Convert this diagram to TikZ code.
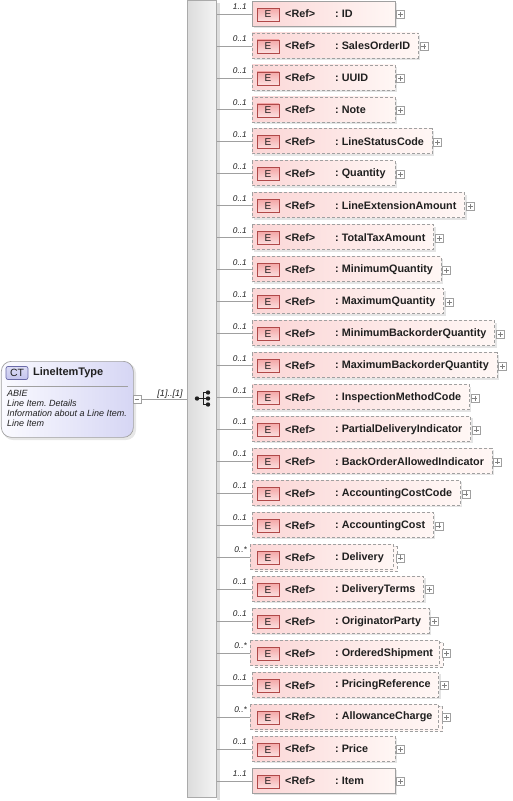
\documentclass[tikz,border=0pt]{standalone}
\usepackage{fontspec}
\setmainfont{Liberation Sans}
\usetikzlibrary{calc}
\pgfdeclarelayer{bg}
\pgfsetlayers{bg,main}
\definecolor{lgray}{HTML}{A0A0A0}
\definecolor{txt}{HTML}{202020}
\definecolor{boxl}{HTML}{FBD6D6}
\definecolor{boxr}{HTML}{FFF7F5}
\definecolor{ered}{HTML}{B04848}
\definecolor{etop}{HTML}{F4A8A8}
\definecolor{ebot}{HTML}{FCE0E0}
\definecolor{shad}{HTML}{DDDDDD}
\definecolor{barl}{HTML}{DCDCDC}
\definecolor{barr}{HTML}{F4F4F4}
\definecolor{ctl}{HTML}{FAFAFF}
\definecolor{ctr}{HTML}{D6D6F4}
\definecolor{ctbd}{HTML}{6A6AA8}
\definecolor{ctbf}{HTML}{C4C4EE}
\frenchspacing
\begin{document}
\begin{tikzpicture}[x=1pt,y=-1pt,
  conn/.style={draw=lgray, line width=0.8pt},
  nm/.style={font=\fontsize{10.8}{12}\selectfont\bfseries, text=txt, inner sep=0pt, anchor=west},
  refs/.style={font=\fontsize{10.8}{12}\selectfont\bfseries, text=txt, inner sep=0pt, anchor=west},
  ebadge/.style={draw=ered, line width=0.7pt, rectangle, minimum width=22pt, minimum height=13pt, inner sep=0pt, top color=etop, bottom color=ebot, font=\fontsize{10}{11}\selectfont, text=txt},
  mult/.style={font=\fontsize{8.3}{9}\selectfont\itshape, anchor=base east, inner sep=0pt, text=txt},
  bx0/.style={draw=lgray, line width=0.7pt, left color=boxl, right color=boxr},
  bx1/.style={draw=lgray, line width=0.7pt, dash pattern=on 3pt off 2pt, left color=boxl, right color=boxr},
  bx2/.style={bx1},
  back0/.style={draw=none},
  back1/.style={draw=none},
  back2/.style={draw=lgray, line width=0.7pt, dash pattern=on 3pt off 2pt, fill=boxr},
  plusbox/.style={draw=lgray, fill=white, line width=0.6pt, minimum size=8pt, inner sep=0pt},
  pl/.style={draw=lgray!80!black, line width=0.6pt},
  ital/.style={font=\fontsize{9}{10}\selectfont\itshape, text=txt, inner sep=0pt, anchor=west}
]
\useasboundingbox (0,0) rectangle (512,801);

% vertical sequence bar
\fill[shad] (217,3) rectangle (220,800);
\node[draw=lgray!90, line width=0.7pt, left color=barl, right color=barr, minimum width=29pt, minimum height=797pt, inner sep=0pt, anchor=north west] (bar) at (187,0) {};

% sequence icon
\begin{scope}[txt]
  \draw[line width=0.9pt] (197,398.5) -- (203,398.5);
  \draw[line width=0.9pt] (203,392.5) -- (203,404.5);
  \draw[line width=0.9pt] (203,392.5) -- (208,392.5) (203,398.5) -- (208,398.5) (203,404.5) -- (208,404.5);
  \fill (197,398.5) circle (2.2pt);
  \fill (208,392.5) circle (2.2pt) (208,398.5) circle (2.2pt) (208,404.5) circle (2.2pt);
\end{scope}

% CT box
\fill[shad, opacity=0.7, rounded corners=10pt] (3,363) rectangle (136,440);
\node[draw=lgray, line width=0.7pt, rounded corners=10pt, left color=ctl, right color=ctr, minimum width=132pt, minimum height=76pt, inner sep=0pt, anchor=north west] (ct) at (1,361) {};
\draw[draw=lgray, line width=0.7pt] (7,386) -- (128,386);
\node[draw=ctbd, line width=0.7pt, rounded corners=2pt, top color=ctbf!60, bottom color=ctbf, minimum width=22pt, minimum height=13pt, inner sep=0pt, font=\fontsize{10.5}{11}\selectfont, text=txt] (ctb) at (17,373) {CT};
\node[font=\fontsize{11}{12}\selectfont\bfseries, text=txt, inner sep=0pt, anchor=west] (ctt) at (33,373) {LineItemType};
\node[ital] (c1) at (7,393.5) {ABIE};
\node[ital] (c2) at (7,403.5) {Line Item. Details};
\node[ital] (c3) at (7,413.5) {Information about a Line Item.};
\node[ital] (c4) at (7,423.5) {Line Item};

% minus box and connector to bar
\node[plusbox] (mn) at (137,399) {};
\draw[pl] ([xshift=2pt]mn.west) -- ([xshift=-2pt]mn.east);
\draw[conn] (mn.east) -- (bar.west |- mn.east);
\node[font=\fontsize{9}{10}\selectfont\itshape, text=txt, inner sep=0pt, anchor=base] (card) at (170,396.5) {[1]..[1]};

% children
\foreach \nm/\mu/\ty [count=\i from 0] in {
  ID/1..1/0, SalesOrderID/0..1/1, UUID/0..1/1, Note/0..1/1, LineStatusCode/0..1/1,
  Quantity/0..1/1, LineExtensionAmount/0..1/1, TotalTaxAmount/0..1/1, MinimumQuantity/0..1/1,
  MaximumQuantity/0..1/1, MinimumBackorderQuantity/0..1/1, MaximumBackorderQuantity/0..1/1,
  InspectionMethodCode/0..1/1, PartialDeliveryIndicator/0..1/1, BackOrderAllowedIndicator/0..1/1,
  AccountingCostCode/0..1/1, AccountingCost/0..1/1, Delivery/0..*/2, DeliveryTerms/0..1/1,
  OriginatorParty/0..1/1, OrderedShipment/0..*/2, PricingReference/0..1/1, AllowanceCharge/0..*/2,
  Price/0..1/1, Item/1..1/0}
{
  \pgfmathsetmacro\yy{13.5+31.96*\i}
  \pgfmathsetmacro\dx{\ty==2 ? -2 : 0}
  \node[nm] (n\i) at (335,\yy+0.5) {: \nm};
  \node[refs] (rf\i) at (285,\yy+0.5) {<Ref>};
  \node[ebadge] (e\i) at (268,\yy+1) {E};
  \path let \p1=(n\i.east) in coordinate (r\i) at ({max(\x1+8,395)},\yy);
  \coordinate (bl\i) at (252+\dx,\yy+0.5);
  \begin{pgfonlayer}{bg}
    \fill[shad, opacity=0.8] (254,\yy-10.5) rectangle ($(r\i)+(2,14.5)$);
    \path[back\ty] (254,\yy-10) rectangle ($(r\i)+(2,14.5)$);
    \path[bx\ty] (252+\dx,\yy-12.5) rectangle ($(r\i)+(\dx,12.5)$);
  \end{pgfonlayer}
  \node[plusbox] (p\i) at ($(r\i)+(5.5,1)$) {};
  \draw[pl] ([xshift=1.8pt]p\i.west) -- ([xshift=-1.8pt]p\i.east);
  \draw[pl] ([yshift=-1.8pt]p\i.north) -- ([yshift=1.8pt]p\i.south);
  \draw[conn] (bar.east |- bl\i) -- (bl\i);
  \node[mult] (m\i) at (247,\yy-4) {\mu};
}
\end{tikzpicture}
\end{document}
